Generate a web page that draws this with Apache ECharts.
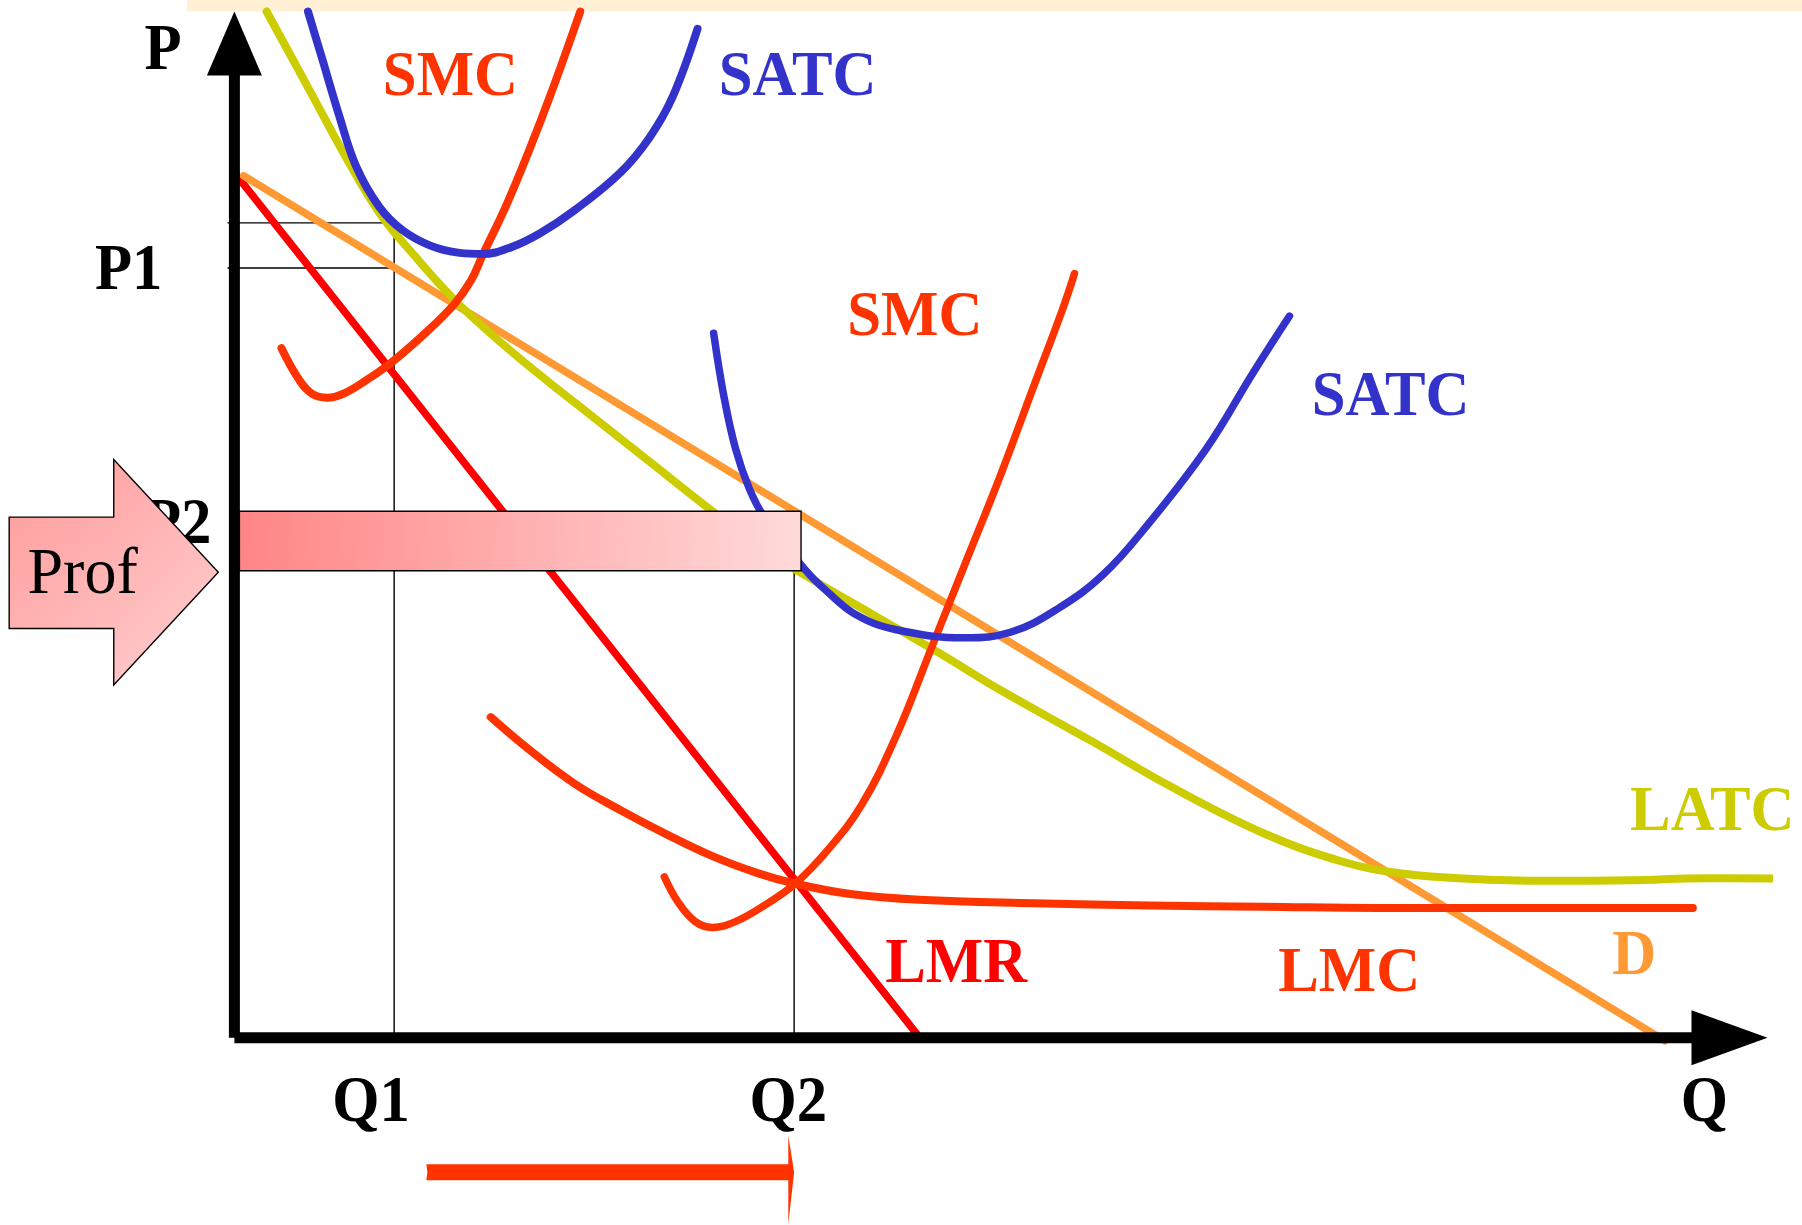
<!DOCTYPE html>
<html><head><meta charset="utf-8">
<script src="https://cdn.jsdelivr.net/npm/echarts@6.0.0/dist/echarts.min.js"></script>
<style>html,body{margin:0;padding:0;background:#fff;overflow:hidden}#c{width:1802px;height:1225px}</style>
</head><body><div id="c"></div>
<script>
// ---------- data (Q, P units: axis arrow tips = 100) ----------
const Q1 = 10.42, Q2 = 36.51;
const P1 = 75.0, ATC1 = 79.4, P2 = 51.3, ATC2 = 45.5;
const PROFIT_RIGHT = 36.96;
const qTickLabels = ['Q1', 'Q2', 'Q'];
const pTickLabels = ['P', 'P1', 'P2'];

const demand = [[0.6, 84.0], [93.3, -0.3]];
const lmr = [[0, 84.3], [44.7, 0]];
const latc = [[2.10,100],[4.95,92.2],[7.20,86.0],[9.45,80.4],[11.69,76.3],[14.69,71.4],[18.44,66.4],[22.19,61.9],[26.69,56.6],[31.18,51.3],[34.18,47.9],[37.18,45.1],[41.68,41.2],[46.18,37.3],[49.93,33.9],[55.92,28.9],[61.17,24.4],[67.17,19.9],[72.41,17.1],[76.16,16.0],[80.5,15.5],[85.5,15.3],[91.0,15.35],[96.0,15.55],[100.5,15.5]];
const lmc = [[16.72,31.24],[19.19,28.11],[22.19,24.75],[25.19,22.17],[28.19,19.82],[31.18,17.69],[34.18,16.01],[36.58,15.01],[40.18,14.0],[44.68,13.44],[52.17,13.10],[59.67,12.88],[67.17,12.77],[74.66,12.65],[82.16,12.65],[95.13,12.65]];
const smc1 = [[3.07,67.19],[4.20,64.17],[5.10,62.71],[6.07,62.37],[7.20,62.82],[8.70,64.17],[10.19,65.73],[12.44,68.65],[14.32,71.44],[15.44,73.80],[16.19,76.26],[17.69,80.96],[19.19,86.34],[20.69,92.16],[22.56,100]];
const satc1 = [[4.80,100],[5.70,95.52],[6.82,89.92],[7.95,84.88],[9.45,80.96],[10.94,78.72],[12.82,77.16],[14.69,76.48],[16.19,76.37],[18.07,77.04],[19.94,78.39],[22.19,80.63],[25.19,84.32],[27.06,87.68],[28.56,91.60],[30.21,98.32]];
const smc2 = [[28.04,15.68],[28.94,13.21],[30.06,11.31],[31.18,10.75],[32.68,11.31],[34.56,12.88],[36.58,15.01],[38.68,18.25],[40.93,22.73],[43.18,29.45],[45.43,37.85],[47.68,46.25],[49.93,54.65],[52.17,63.61],[54.05,71.11],[54.80,74.47]];
const satc2 = [[31.26,68.65],[31.93,62.49],[32.68,57.45],[33.58,53.53],[34.56,50.73],[37.18,45.69],[38.68,43.45],[40.55,41.21],[43.18,39.75],[47.68,38.97],[50.67,39.53],[53.67,41.77],[56.67,45.13],[59.67,50.17],[63.42,57.45],[66.42,64.73],[68.82,70.32]];

const curveNames = ['SMC', 'SATC', 'SMC', 'SATC', 'LATC', 'D', 'LMC', 'LMR'];
const curveLabelAt = [[14.09,93.5],[36.73,93.5],[44.38,70.1],[75.41,62.26],[96.4,21.84],[91.3,7.84],[72.71,6.16],[47.08,7.05]];
const curveColors = ['#FF3300','#3333CC','#FF3300','#3333CC','#CCCC00','#FF9933','#FF3300','#FF0000'];

const COL = {smc:'#FF3300', satc:'#3333CC', latc:'#CCCC00', d:'#FF9933', lmr:'#FF0000', lmc:'#FF3300'};
const SERIF = '"Liberation Serif","Times New Roman",serif';

const chart = echarts.init(document.getElementById('c'), null, {renderer:'canvas'});

function lineSeries(name, data, color, width, z) {
  return {type:'line', name, data, smooth:0.4, showSymbol:false, clip:false, silent:true,
    lineStyle:{color, width:width, cap:'round', join:'round'}, z:z||3, animation:false};
}

function underlay(params, api) {
  const a = api.coord([-0.45, ATC1]), b = api.coord([Q1, ATC1]);
  const c = api.coord([-0.45, P1]), d = api.coord([Q1, P1]);
  const e = api.coord([Q1, 0]);
  const f = api.coord([Q2, P2]), g = api.coord([Q2, 0]);
  const st = {stroke:'#000', lineWidth:1.4};
  return {type:'group', children:[
    {type:'line', shape:{x1:a[0],y1:a[1],x2:b[0],y2:b[1]}, style:st},
    {type:'line', shape:{x1:c[0],y1:c[1],x2:d[0],y2:d[1]}, style:st},
    {type:'line', shape:{x1:b[0],y1:b[1],x2:e[0],y2:e[1]}, style:st},
    {type:'line', shape:{x1:f[0],y1:f[1],x2:g[0],y2:g[1]}, style:st}
  ]};
}

function txt(api, q, p, text, color, size, weight, z2, sx) {
  const pt = api.coord([q, p]);
  return {type:'text', z2:z2||10, x:pt[0], y:pt[1], scaleX:sx||0.95,
    style:{text, x:0, y:0, align:'center', verticalAlign:'middle',
    fill:color, font:(weight||'bold') + ' ' + size + 'px ' + SERIF}};
}

function overlay(params, api) {
  const ch = [];
  // profit box
  const b0 = api.coord([0, P2]), b1 = api.coord([PROFIT_RIGHT, ATC2]);
  ch.push({type:'rect', z2:5, shape:{x:b0[0]+5, y:b0[1], width:b1[0]-b0[0]-5, height:b1[1]-b0[1]},
    style:{fill:new echarts.graphic.LinearGradient(0,0,1,0.3,[{offset:0,color:'#FF8585'},{offset:1,color:'#FFDADA'}]),
      stroke:'#000', lineWidth:1.4}});
  // axes
  const o = api.coord([0, 0]), yt = api.coord([0, 100]), xt = api.coord([100, 0]);
  const AW = 11, HW = 27.5, HL = 64, XHL = 76;
  ch.push({type:'rect', z2:20, shape:{x:o[0]-AW/2, y:yt[1]+HL-2, width:AW, height:o[1]-yt[1]-HL+2}, style:{fill:'#000'}});
  ch.push({type:'polygon', z2:20, shape:{points:[[o[0], yt[1]], [o[0]-HW, yt[1]+HL], [o[0]+HW, yt[1]+HL]]}, style:{fill:'#000'}});
  ch.push({type:'rect', z2:20, shape:{x:o[0], y:o[1]-AW/2, width:xt[0]-XHL+2-o[0], height:AW}, style:{fill:'#000'}});
  ch.push({type:'polygon', z2:20, shape:{points:[[xt[0], o[1]], [xt[0]-XHL, o[1]-HW], [xt[0]-XHL, o[1]+HW]]}, style:{fill:'#000'}});
  // axis texts
  const qv = [Q1 - 1.5, Q2 - 0.38, 95.88];
  qTickLabels.forEach((t, i) => ch.push(txt(api, qv[i], -6.5, t, '#000', 66, 'bold', 10, 0.92)));
  const pPos = [[-4.65, 96.1], [-6.9, 74.6], [-3.7, 49.9]];
  pTickLabels.forEach((t, i) => ch.push(txt(api, pPos[i][0], pPos[i][1], t, '#000', 66, 'bold', 8, 0.92)));
  // curve labels
  curveNames.forEach((t, i) => ch.push(txt(api, curveLabelAt[i][0], curveLabelAt[i][1], t, curveColors[i], 64, 'bold', 10, 0.95)));
  // Prof arrow
  const pa = [[-14.69,50.73],[-7.87,50.73],[-7.87,56.33],[-1.05,45.35],[-7.87,34.38],[-7.87,39.87],[-14.69,39.87]].map(v => api.coord(v));
  ch.push({type:'polygon', z2:30, shape:{points:pa},
    style:{fill:new echarts.graphic.LinearGradient(0,0,1,1,[{offset:0,color:'#FF9A9A'},{offset:1,color:'#FFD0D0'}]), stroke:'#000', lineWidth:1.4}});
  ch.push(txt(api, -9.9, 45.0, 'Prof', '#000', 66, 'normal', 31, 0.97));
  // bottom red arrow
  const s0 = api.coord([12.52, -13.1]), s1 = api.coord([36.13, -13.1]), tip = api.coord([36.51, -13.1]);
  const hTop = api.coord([36.13, -9.52]), hBot = api.coord([36.13, -18.14]);
  ch.push({type:'polygon', z2:10, shape:{points:[[s0[0], s0[1]-8],[s1[0], s1[1]-8],[hTop[0], hTop[1]],[tip[0], tip[1]],[hBot[0], hBot[1]],[s1[0], s1[1]+8],[s0[0], s0[1]+8],[s0[0]+1, s0[1]]]},
    style:{fill:'#FF3300'}});
  return {type:'group', children:ch};
}

chart.setOption({
  animation:false,
  backgroundColor:'#fff',
  grid:{left:234.4, right:34.5, top:11.5, bottom:187.3},
  xAxis:{type:'value', min:0, max:100, show:false},
  yAxis:{type:'value', min:0, max:100, show:false},
  graphic:[{type:'rect', left:187, top:0, shape:{width:1615, height:11.5}, style:{fill:'#FFF0D6'}, z:0}],
  series:[
    {type:'custom', name:'guides', renderItem:underlay, data:[[0,0]], clip:false, silent:true, z:1},
    lineSeries('LMR', lmr, COL.lmr, 7.5, 3),
    lineSeries('D', demand, COL.d, 7.5, 3),
    lineSeries('LATC', latc, COL.latc, 8, 3),
    lineSeries('LMC', lmc, COL.lmc, 8, 3),
    lineSeries('SMC1', smc1, COL.smc, 8, 3),
    lineSeries('SATC1', satc1, COL.satc, 8, 3),
    lineSeries('SMC2', smc2, COL.smc, 7.5, 3),
    lineSeries('SATC2', satc2, COL.satc, 7.5, 3),
    {type:'custom', name:'overlay', renderItem:overlay, data:[[0,0]], clip:false, silent:true, z:5}
  ]
});
</script></body></html>
